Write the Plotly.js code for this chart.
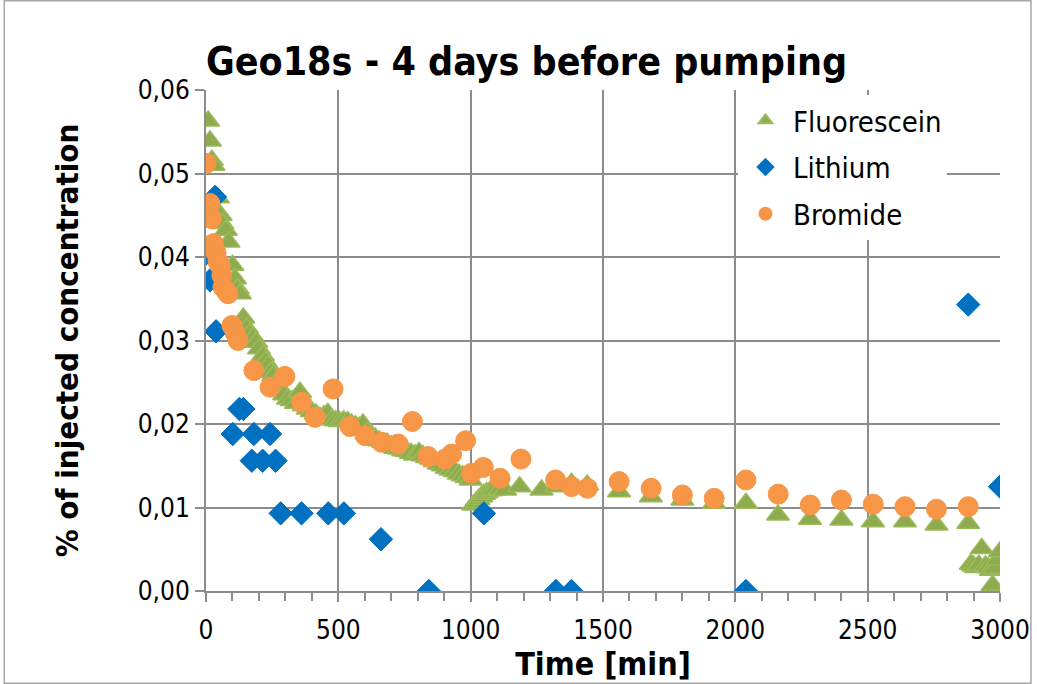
<!DOCTYPE html>
<html>
<head>
<meta charset="utf-8">
<script src="https://cdn.plot.ly/plotly-3.0.1.min.js"></script>
<style>
  html, body { margin: 0; padding: 0; background: #ffffff; }
  #chart { width: 1037px; height: 684px; }
</style>
</head>
<body>
<div id="chart"></div>
<script>
// ---- Data ----
const fluoresceinTime = [8, 15, 22, 28, 45, 55, 62, 75, 85, 100, 110, 120, 128, 141, 155, 165, 178, 190, 200, 215, 225, 235, 245, 255, 265, 280, 295, 310, 325, 340, 355, 370, 385, 400, 415, 430, 445, 460, 475, 490, 505, 520, 535, 550, 565, 580, 593, 610, 625, 640, 655, 670, 685, 700, 715, 730, 745, 760, 775, 790, 805, 820, 835, 850, 865, 880, 895, 910, 925, 940, 955, 970, 985, 1000, 1010, 1020, 1030, 1040, 1050, 1060, 1075, 1090, 1110, 1130, 1185, 1268, 1325, 1381, 1440, 1561, 1681, 1800, 1920, 2040, 2161, 2282, 2401, 2520, 2641, 2760, 2880, 2890, 2900, 2910, 2920, 2931, 2945, 2955, 2965, 2972, 2981, 2990, 3000];
const fluoresceinConc = [0.0563, 0.0539, 0.0516, 0.0510, 0.0471, 0.0450, 0.0440, 0.0432, 0.0418, 0.0390, 0.0374, 0.0362, 0.0356, 0.0327, 0.0315, 0.0308, 0.0304, 0.0298, 0.0290, 0.0282, 0.0275, 0.0270, 0.0262, 0.0258, 0.0250, 0.0243, 0.0235, 0.0230, 0.0228, 0.0225, 0.0238, 0.0222, 0.0218, 0.0215, 0.0212, 0.0208, 0.0210, 0.0213, 0.0205, 0.0204, 0.0203, 0.0204, 0.0203, 0.0200, 0.0198, 0.0196, 0.0200, 0.0190, 0.0186, 0.0183, 0.0180, 0.0178, 0.0177, 0.0174, 0.0171, 0.0170, 0.0168, 0.0167, 0.0165, 0.0163, 0.0166, 0.0162, 0.0160, 0.0158, 0.0155, 0.0152, 0.0150, 0.0147, 0.0145, 0.0143, 0.0140, 0.0138, 0.0136, 0.0133, 0.0103, 0.0106, 0.0110, 0.0113, 0.0116, 0.0118, 0.0120, 0.0121, 0.0122, 0.0121, 0.0125, 0.0121, 0.0125, 0.0129, 0.0127, 0.0119, 0.0113, 0.0109, 0.0105, 0.0105, 0.0091, 0.0086, 0.0085, 0.0083, 0.0083, 0.0079, 0.0081, 0.0032, 0.0030, 0.0028, 0.0031, 0.0051, 0.0030, 0.0028, 0.0025, 0.0007, 0.0027, 0.0037, 0.0047];

const lithiumTime = [0, 15, 34, 38, 101, 126, 141, 173, 181, 214, 242, 263, 282, 361, 462, 521, 661, 842, 1050, 1322, 1381, 2040, 2880, 3000];
const lithiumConc = [0.0404, 0.0372, 0.0472, 0.0311, 0.0188, 0.0218, 0.0218, 0.0156, 0.0188, 0.0156, 0.0188, 0.0156, 0.0093, 0.0093, 0.0093, 0.0093, 0.0062, 0.0000, 0.0093, 0.0000, 0.0000, 0.0000, 0.0343, 0.0125];

const bromideTime = [0, 15, 21, 28, 38, 45, 53, 60, 64, 75, 83, 98, 110, 121, 181, 242, 298, 361, 412, 480, 544, 601, 664, 726, 780, 839, 903, 928, 981, 1003, 1048, 1111, 1190, 1321, 1381, 1441, 1561, 1682, 1800, 1920, 2040, 2162, 2283, 2401, 2521, 2641, 2760, 2880];
const bromideConc = [0.0512, 0.0464, 0.0446, 0.0416, 0.0405, 0.0395, 0.0390, 0.0378, 0.0364, 0.0360, 0.0356, 0.0318, 0.0309, 0.0300, 0.0264, 0.0244, 0.0257, 0.0226, 0.0208, 0.0242, 0.0197, 0.0186, 0.0178, 0.0176, 0.0203, 0.0161, 0.0158, 0.0164, 0.0180, 0.0141, 0.0148, 0.0135, 0.0158, 0.0133, 0.0125, 0.0123, 0.0131, 0.0123, 0.0115, 0.0111, 0.0133, 0.0116, 0.0103, 0.0109, 0.0104, 0.0101, 0.0098, 0.0101];

const seriesNames = ['Fluorescein', 'Lithium', 'Bromide'];
const chartTitle = 'Geo18s - 4 days before pumping';
const xTitle = 'Time [min]';
const yTitle = '% of injected concentration';

// ---- Styling ----
const FONT = "'Liberation Sans Narrow', 'DejaVu Sans Condensed', 'Liberation Sans', sans-serif";
const GRID = '#8c8c8c';

const traces = [
  {
    type: 'scatter', mode: 'markers', name: seriesNames[0], legendgroup: 'g1',
    x: fluoresceinTime, y: fluoresceinConc,
    marker: { symbol: 'triangle-up', size: 20, color: '#8fab4f', line: { color: '#9bbb59', width: 1.5 } }
  },
  {
    type: 'scatter', mode: 'markers', name: seriesNames[1], legendgroup: 'g2',
    x: lithiumTime, y: lithiumConc,
    marker: { symbol: 'diamond', size: 18, color: '#0070c0', line: { color: '#0070c0', width: 1 } }
  },
  {
    type: 'scatter', mode: 'markers', name: seriesNames[2], legendgroup: 'g3',
    x: bromideTime, y: bromideConc,
    marker: { symbol: 'circle', size: 20, color: '#f79646', line: { color: '#f79646', width: 1 } }
  }
];

const layout = {
  width: 1037, height: 684,
  margin: { l: 206, r: 37, t: 90, b: 93 },
  paper_bgcolor: '#ffffff', plot_bgcolor: '#ffffff',
  separators: ', ',
  font: { family: FONT, color: '#000000', size: 26 },
  title: {
    text: '<b>' + chartTitle + '</b>',
    font: { family: FONT, size: 39, color: '#000000' },
    xref: 'paper', x: 0.0, xanchor: 'left',
    yref: 'container', y: 0.91, yanchor: 'middle'
  },
  showlegend: true,
  legend: {
    x: 0.67, y: 0.99, xanchor: 'left', yanchor: 'top',
    bgcolor: '#ffffff', borderwidth: 0,
    font: { family: FONT, size: 29, color: '#000000' },
    tracegroupgap: 6, itemsizing: 'constant', itemwidth: 45,
    entrywidth: 195, entrywidthmode: 'pixels'
  },
  xaxis: {
    range: [0, 3000], dtick: 500, tick0: 0,
    showgrid: true, gridcolor: GRID, gridwidth: 2,
    zeroline: false, showline: true, linecolor: GRID, linewidth: 2,
    ticks: 'outside', ticklen: 9, tickwidth: 2, tickcolor: GRID,
    ticklabelstandoff: 6,
    minor: { dtick: 100, ticks: 'outside', ticklen: 8, tickwidth: 2, tickcolor: GRID, showgrid: false },
    tickfont: { family: FONT, size: 26, color: '#000000' },
    title: { text: '<b>' + xTitle + '</b>', font: { family: FONT, size: 32, color: '#000000' }, standoff: 0 },
    automargin: false
  },
  yaxis: {
    range: [0, 0.06], dtick: 0.01, tick0: 0, tickformat: '.2f',
    showgrid: true, gridcolor: GRID, gridwidth: 2,
    zeroline: false, showline: true, linecolor: GRID, linewidth: 2,
    ticks: 'outside', ticklen: 9, tickwidth: 2, tickcolor: GRID,
    tickfont: { family: FONT, size: 26, color: '#000000' },
    title: { text: '<b>' + yTitle + '</b>', font: { family: FONT, size: 31, color: '#000000' }, standoff: 50 },
    automargin: false
  },
  shapes: [
    { type: 'rect', xref: 'paper', yref: 'paper', x0: -0.254, x1: 1.039, y0: -0.184, y1: 1.178,
      line: { color: '#a6a6a6', width: 1.5 }, fillcolor: 'rgba(0,0,0,0)', layer: 'below' }
  ]
};

Plotly.newPlot('chart', traces, layout, { displayModeBar: false, staticPlot: true });
</script>
</body>
</html>
